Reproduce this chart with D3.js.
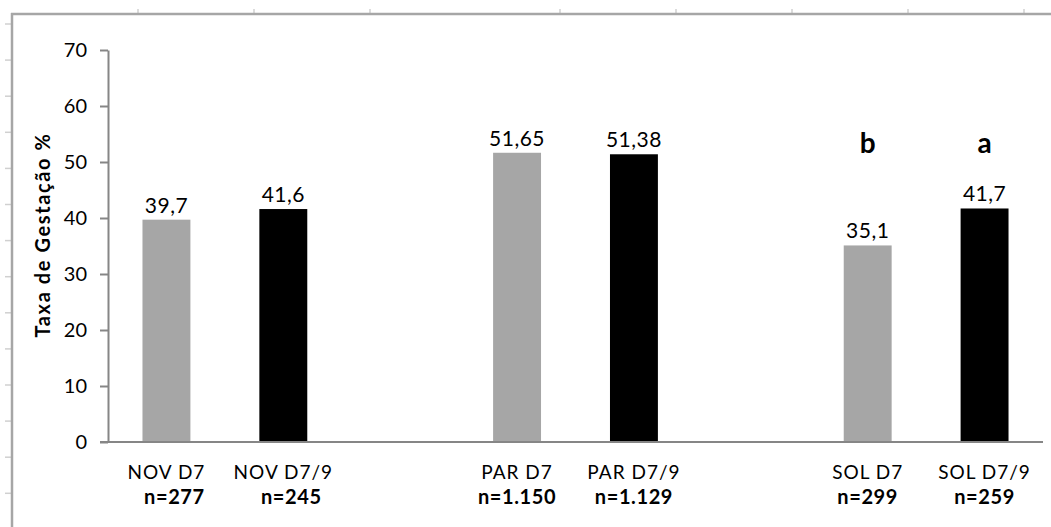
<!DOCTYPE html>
<html><head><meta charset="utf-8">
<script src="https://cdn.jsdelivr.net/npm/d3@7"></script>
<style>
html,body{margin:0;padding:0;background:#fff;}
svg{display:block;font-family:Lato, "Open Sans", sans-serif;}
</style></head>
<body>
<svg id="chart" width="1051" height="527"></svg>
<script>
// ---- data ----
const categories = ["NOV D7", "NOV D7/9", "PAR D7", "PAR D7/9", "SOL D7", "SOL D7/9"];
const groups = ["NOV", "NOV", "PAR", "PAR", "SOL", "SOL"];
const protocol = ["D7", "D7/9", "D7", "D7/9", "D7", "D7/9"];
const values = [39.7, 41.6, 51.65, 51.38, 35.1, 41.7];
const valueLabels = ["39,7", "41,6", "51,65", "51,38", "35,1", "41,7"];
const sampleSizes = ["n=277", "n=245", "n=1.150", "n=1.129", "n=299", "n=259"];
const significance = ["", "", "", "", "b", "a"];
const yTicks = [0, 10, 20, 30, 40, 50, 60, 70];
const yTitle = "Taxa de Gestação %";
const slotOrder = ["NOV D7", "NOV D7/9", "gap1", "PAR D7", "PAR D7/9", "gap2", "SOL D7", "SOL D7/9"];
const colors = {"D7": "#a6a6a6", "D7/9": "#000000"};

// ---- layout ----
const svg = d3.select("#chart");
const plot = {left: 108, right: 1043, top: 50, bottom: 442};

// frame (screenshot border with ruler ticks)
const frame = svg.append("g");
const rulerX = [138, 254, 370, 560, 676, 792, 908, 1024];
const rulerY = d3.range(14).map(i => 24 + i * 36.1);
frame.selectAll("line.rx").data(rulerX).join("line")
  .attr("x1", d => d).attr("x2", d => d).attr("y1", 9).attr("y2", 14)
  .attr("stroke", "#d0d0d0").attr("stroke-width", 1.5);
frame.selectAll("line.ry").data(rulerY).join("line")
  .attr("y1", d => d).attr("y2", d => d).attr("x1", 5).attr("x2", 12)
  .attr("stroke", "#d0d0d0").attr("stroke-width", 1.5);
frame.append("line").attr("x1", 11).attr("x2", 1051).attr("y1", 14).attr("y2", 14)
  .attr("stroke", "#a6a6a6").attr("stroke-width", 2.5);
frame.append("line").attr("x1", 12).attr("x2", 12).attr("y1", 13).attr("y2", 527)
  .attr("stroke", "#a6a6a6").attr("stroke-width", 2.5);

// scales
const x = d3.scaleBand().domain(slotOrder).range([plot.left, plot.right])
  .paddingInner(0.59).paddingOuter(0.295);
const y = d3.scaleLinear().domain([0, 70]).range([plot.bottom, plot.top]);

// y axis
const yAxis = svg.append("g").attr("transform", `translate(${plot.left},0)`)
  .call(d3.axisLeft(y).tickValues(yTicks).tickSize(8).tickPadding(13).tickSizeOuter(0));
yAxis.select(".domain").attr("stroke", "#868686").attr("stroke-width", 2);
yAxis.selectAll(".tick line").attr("stroke", "#868686").attr("stroke-width", 2);
yAxis.selectAll(".tick text").attr("font-size", 20).attr("fill", "#000")
  .attr("font-family", "Lato, sans-serif").attr("dy", "0.34em");

// bars
svg.append("g").selectAll("rect").data(categories).join("rect")
  .attr("x", d => x(d)).attr("width", x.bandwidth())
  .attr("y", (d, i) => y(values[i])).attr("height", (d, i) => y(0) - y(values[i]))
  .attr("fill", (d, i) => colors[protocol[i]]);

// x axis baseline
svg.append("line").attr("x1", plot.left - 8).attr("x2", plot.right)
  .attr("y1", y(0)).attr("y2", y(0)).attr("stroke", "#868686").attr("stroke-width", 2);

// value labels
svg.append("g").selectAll("text").data(categories).join("text")
  .attr("x", d => x(d) + x.bandwidth() / 2)
  .attr("y", (d, i) => y(values[i]) - 7)
  .attr("text-anchor", "middle").attr("font-size", 21).attr("fill", "#000")
  .attr("letter-spacing", 0.5)
  .text((d, i) => valueLabels[i]);

// significance letters
svg.append("g").selectAll("text").data(categories).join("text")
  .attr("x", d => x(d) + x.bandwidth() / 2)
  .attr("y", y(51.6))
  .attr("text-anchor", "middle").attr("font-size", 28).attr("font-weight", "bold").attr("fill", "#000")
  .text((d, i) => significance[i]);

// category labels
const cat = svg.append("g").selectAll("g").data(categories).join("g")
  .attr("transform", d => `translate(${x(d) + x.bandwidth() / 2},0)`);
cat.append("text").attr("y", 479).attr("text-anchor", "middle")
  .attr("font-size", 19).attr("letter-spacing", 1).attr("fill", "#000").text(d => d);
cat.append("text").attr("y", 504).attr("text-anchor", "middle")
  .attr("dx", (d, i) => groups[i] === "NOV" ? 8 : 0)
  .attr("font-size", 20).attr("font-weight", "bold").attr("letter-spacing", 0.6).attr("fill", "#000")
  .text((d, i) => sampleSizes[i]);

// y title
svg.append("text")
  .attr("transform", `translate(50,${(plot.top + plot.bottom) / 2 - 11}) rotate(-90)`)
  .attr("text-anchor", "middle").attr("font-size", 20).attr("font-weight", "bold").attr("fill", "#000")
  .attr("letter-spacing", 1.6)
  .text(yTitle);
</script>
</body></html>
